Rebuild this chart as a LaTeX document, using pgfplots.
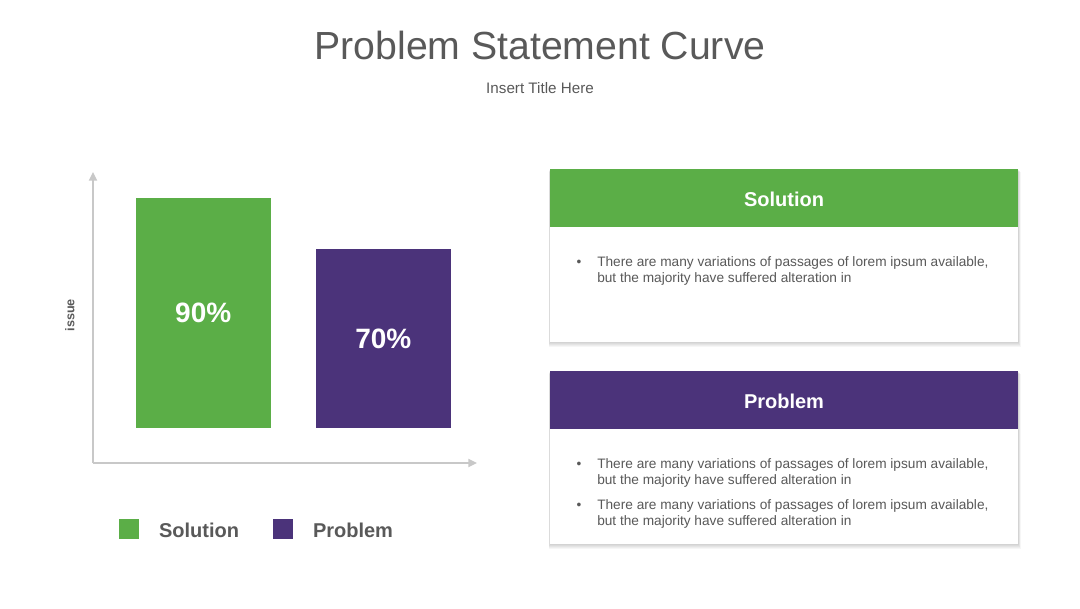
\documentclass[border=0pt]{standalone}
\usepackage{fontspec}
\setmainfont{Liberation Sans}
\usepackage{pgfplots}
\pgfplotsset{compat=1.18}
\usetikzlibrary{arrows.meta}
\definecolor{solgreen}{HTML}{5BAE47}
\definecolor{probpurple}{HTML}{4B337A}
\definecolor{axisgray}{HTML}{C8C8C8}
\definecolor{textgray}{HTML}{595959}
\begin{document}
\begin{tikzpicture}
\begin{scope}[shift={(0pt,456pt)}, x=0.75pt, y=-0.75pt]
\fill[white] (0,0) rectangle (1080,608);
\node[anchor=base, text=textgray, font=\fontsize{29.4}{34}\selectfont, inner sep=0pt] at (540,60) {Problem Statement Curve};
\node[anchor=base, text=textgray, font=\fontsize{11.4}{13}\selectfont, inner sep=0pt] at (540,94) {Insert Title Here};
% soft shadows
\foreach \i in {1,...,5} {
  \fill[black, opacity=0.035] (550-0.3*\i,169+0.6*\i) rectangle (1018+0.6*\i,342+0.9*\i);
  \fill[black, opacity=0.035] (550-0.3*\i,371+0.6*\i) rectangle (1018+0.6*\i,544+0.9*\i);
}
% Solution card
\fill[white] (550,169) rectangle (1018,342);
\fill[solgreen] (550,169) rectangle (1018,227);
\node[anchor=base, text=white, font=\bfseries\fontsize{15}{18}\selectfont, inner sep=0pt] at (784,206) {Solution};
\begin{scope}[every node/.style={text=textgray, font=\fontsize{10.25}{12}\selectfont, inner sep=0pt}]
\node[anchor=base] at (579,266) {•};
\node[anchor=base west] at (597,266) {There are many variations of passages of lorem ipsum available,};
\node[anchor=base west] at (597,282) {but the majority have suffered alteration in};
\end{scope}
% Problem card
\fill[white] (550,371) rectangle (1018,544);
\fill[probpurple] (550,371) rectangle (1018,429);
\node[anchor=base, text=white, font=\bfseries\fontsize{15}{18}\selectfont, inner sep=0pt] at (784,408) {Problem};
\begin{scope}[every node/.style={text=textgray, font=\fontsize{10.25}{12}\selectfont, inner sep=0pt}]
\node[anchor=base] at (579,468) {•};
\node[anchor=base west] at (597,468) {There are many variations of passages of lorem ipsum available,};
\node[anchor=base west] at (597,484) {but the majority have suffered alteration in};
\node[anchor=base] at (579,509) {•};
\node[anchor=base west] at (597,509) {There are many variations of passages of lorem ipsum available,};
\node[anchor=base west] at (597,525) {but the majority have suffered alteration in};
\end{scope}
\end{scope}
\begin{axis}[
  at={(69.75pt,108.75pt)}, anchor=south west,
  scale only axis, width=288pt, height=218.25pt,
  xmin=0.388, xmax=2.52, ymin=-13.7, ymax=100.17,
  axis lines=left,
  axis line style={draw=axisgray, line width=1.5pt, -{Triangle[length=6.5pt,width=6pt]}},
  xtick=\empty, ytick=\empty,
  /pgf/number format/assume math mode=true,
  ylabel={issue},
  ylabel style={at={(axis description cs:-0.06,0.508)}, anchor=center, font=\bfseries\fontsize{9.5}{11}\selectfont, text=textgray},
  legend style={at={(axis description cs:0.428,-0.232)}, anchor=center, draw=none, fill=none,
    font=\bfseries\fontsize{15}{18}\selectfont, text=textgray, legend columns=2,
    /tikz/every odd column/.append style={column sep=13pt},
    /tikz/every even column/.append style={column sep=23.5pt}},
  legend cell align=left,
  clip=false,
]
\addplot[ybar, bar width=101.25pt, fill=solgreen, draw=none,
  legend image code/.code={\fill[solgreen] (0pt,-5.5pt) rectangle (15pt,9.5pt);},
  nodes near coords={\pgfmathprintnumber{\pgfplotspointmeta}\%},
  visualization depends on={y \as \rawy},
  every node near coord/.append style={anchor=center, text=white, font=\bfseries\fontsize{21}{25}\selectfont, shift={(axis direction cs:0,-\rawy/2)}}]
  coordinates {(1,90)};
\addlegendentry{Solution}
\addplot[ybar, bar width=101.25pt, fill=probpurple, draw=none,
  legend image code/.code={\fill[probpurple] (0pt,-5.5pt) rectangle (15pt,9.5pt);},
  nodes near coords={\pgfmathprintnumber{\pgfplotspointmeta}\%},
  visualization depends on={y \as \rawy},
  every node near coord/.append style={anchor=center, text=white, font=\bfseries\fontsize{21}{25}\selectfont, shift={(axis direction cs:0,-\rawy/2)}}]
  coordinates {(2,70)};
\addlegendentry{Problem}
\end{axis}
\end{tikzpicture}
\end{document}
